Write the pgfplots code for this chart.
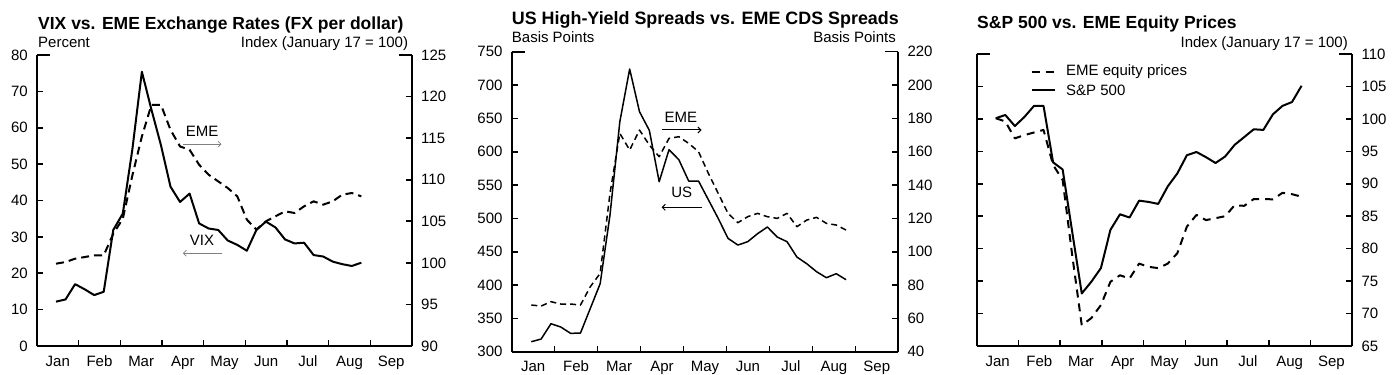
\documentclass[border=0pt]{standalone}
\usepackage{pgfplots}
\pgfplotsset{compat=1.18}
\usepackage{pgfplotstable}
\usetikzlibrary{arrows.meta}
\usepackage{fontspec}
\setmainfont{Liberation Sans}

% weekly data from Jan 17 (x in months from Jan 1)
\pgfplotstableread{
x vix eme
0.456 12.2 99.9
0.685 12.8 100.1
0.914 17.0 100.5
1.143 15.6 100.7
1.372 14.0 100.9
1.601 14.9 100.9
1.830 31.9 103.5
2.059 36.4 105.3
2.288 54.0 110.5
2.517 75.4 115.2
2.746 65.0 119.0
2.975 55.2 119.0
3.204 43.8 116.0
3.433 39.6 114.0
3.662 41.9 113.6
3.891 33.7 111.8
4.120 32.3 110.6
4.349 31.9 109.8
4.578 29.0 109.0
4.807 27.8 108.0
5.036 26.2 105.2
5.265 31.9 104.0
5.494 34.2 105.0
5.723 32.6 105.6
5.952 29.3 106.2
6.181 28.2 106.0
6.410 28.4 106.8
6.639 25.0 107.4
6.868 24.6 107.0
7.097 23.2 107.4
7.326 22.5 108.2
7.555 22.0 108.4
7.784 22.9 108.0
}\tabA

\pgfplotstableread{
x us cds
0.456 315 68
0.685 319 67.4
0.914 342 70
1.143 337 68.6
1.372 327.5 68.6
1.601 328 68
1.830 365 79
2.059 402 87
2.288 505 135
2.517 645 171
2.746 724 161
2.975 660 173
3.204 632 164
3.433 555 157
3.662 603 168
3.891 588 169
4.120 556 165
4.349 556 160
4.578 528 147
4.807 500 135
5.036 470 123
5.265 460 117.4
5.494 465 121
5.723 477 123
5.952 487 121
6.181 472 120
6.410 465 123
6.639 442 115
6.868 432 119
7.097 420 120.6
7.326 411 117
7.555 417 116
7.784 408 113
}\tabB

\pgfplotstableread{
x sp eq
0.456 100.1 100.1
0.685 100.6 99.6
0.914 98.9 97.0
1.143 100.3 97.5
1.372 102.0 97.9
1.601 102.0 98.3
1.830 93.3 92.9
2.059 92.2 90.6
2.288 82.6 79.0
2.517 73.1 68.2
2.746 74.9 69.3
2.975 77.0 71.3
3.204 82.9 74.9
3.433 85.3 75.9
3.662 84.8 75.4
3.891 87.4 77.7
4.120 87.2 77.2
4.349 86.9 77.0
4.578 89.6 77.7
4.807 91.6 79.3
5.036 94.4 83.4
5.265 94.9 85.2
5.494 94.1 84.4
5.723 93.2 84.7
5.952 94.2 85.0
6.181 96.0 86.7
6.410 97.2 86.6
6.639 98.4 87.65
6.868 98.3 87.65
7.097 100.7 87.6
7.326 102.0 88.6
7.555 102.6 88.4
7.784 105.1 88.0
}\tabC

\tikzset{
  solidA/.style={black, line width=2bp, line join=round},
  dashA/.style={black, line width=2bp, line join=round, dash pattern=on 8bp off 5bp},
  solidB/.style={black, line width=1.5bp, line join=round},
  dashB/.style={black, line width=1.5bp, line join=round, dash pattern=on 6bp off 4bp},
  dashC/.style={black, line width=2bp, line join=round, dash pattern=on 8bp off 6bp},
}

\pgfplotsset{
  base/.style={
    scale only axis,
    anchor=south west,
    xmin=0, xmax=9,
    clip=false,
    tick align=inside,
    major tick length=6bp,
    minor tick length=6bp,
    axis line style={-, line width=1.8bp},
    tick style={line width=1.6bp, black},
    ticklabel style={font=\fontsize{15bp}{18bp}\selectfont},
    /pgf/number format/assume math mode=true,
  },
  lefty/.style={
    base,
    axis x line*=bottom,
    axis y line*=left,
    xtick={0.5,1.5,...,8.5},
    xticklabels={Jan,Feb,Mar,Apr,May,Jun,Jul,Aug,Sep},
    minor xtick={1,2,...,8},
    major x tick style={draw=none},
    xticklabel style={anchor=base, inner sep=0pt, yshift=-20bp},
    yticklabel style={anchor=east, inner sep=0pt, xshift=-9bp},
  },
  righty/.style={
    base,
    axis x line=none,
    axis y line*=right,
    yticklabel style={anchor=west, inner sep=0pt, xshift=9bp},
  },
}

\newcommand{\tfont}{\fontsize{17.5bp}{20bp}\selectfont\bfseries}
\newcommand{\lfont}{\fontsize{15bp}{18bp}\selectfont}

\begin{document}
\begin{tikzpicture}[x=1bp, y=1bp]
\useasboundingbox (0,0) rectangle (1395,374);

%%%%%%%%%%%%%%%% Panel 1
\begin{axis}[lefty, at={(37bp,28bp)}, width=375bp, height=291bp,
  ymin=0, ymax=80, ytick={0,10,...,80}]
  \addplot[solidA] table[x=x, y=vix] {\tabA};
  \draw[line width=1.6bp] (rel axis cs:0,1) -- ++(13bp,0bp);
  \node[font=\lfont, inner sep=0pt] at (axis cs:3.96,59) {EME};
  \draw[gray, line width=0.7bp, -{Straight Barb[length=3bp]}] (axis cs:3.5,55.5) -- (axis cs:4.43,55.5);
  \node[font=\lfont, inner sep=0pt] at (axis cs:3.96,29.1) {VIX};
  \draw[gray, line width=0.7bp, -{Straight Barb[length=3bp]}] (axis cs:4.43,25.5) -- (axis cs:3.5,25.5);
\end{axis}
\begin{axis}[righty, at={(37bp,28bp)}, width=375bp, height=291bp,
  ymin=90, ymax=125, ytick={90,95,...,125}]
  \addplot[dashA] table[x=x, y=eme] {\tabA};
  \draw[line width=1.6bp] (rel axis cs:1,1) -- ++(-13bp,0bp);
\end{axis}
\node[anchor=base west, inner sep=0pt, font=\tfont] at (38,345) {VIX vs. EME Exchange Rates (FX per dollar)};
\node[anchor=base west, inner sep=0pt, font=\lfont] at (38,327) {Percent};
\node[anchor=base east, inner sep=0pt, font=\lfont] at (408.3,327) {Index (January 17 = 100)};

%%%%%%%%%%%%%%%% Panel 2
\begin{axis}[lefty, at={(511.7bp,22.3bp)}, width=386.6bp, height=300bp,
  ymin=300, ymax=750, ytick={300,350,...,750}]
  \addplot[solidB] table[x=x, y=us] {\tabB};
  \draw[line width=1.6bp] (rel axis cs:0,1) -- ++(13bp,0bp);
  \node[font=\lfont, inner sep=0pt] at (axis cs:3.94,651.6) {EME};
  \draw[black, line width=1bp, -{Straight Barb[length=3bp]}] (axis cs:3.49,632.6) -- (axis cs:4.42,632.6);
  \node[font=\lfont, inner sep=0pt] at (axis cs:3.96,538.5) {US};
  \draw[black, line width=1bp, -{Straight Barb[length=3bp]}] (axis cs:4.42,516.6) -- (axis cs:3.49,516.6);
\end{axis}
\begin{axis}[righty, at={(511.7bp,22.3bp)}, width=386.6bp, height=300bp,
  ymin=40, ymax=220, ytick={40,60,...,220}]
  \addplot[dashB] table[x=x, y=cds] {\tabB};
  \draw[line width=1.6bp] (rel axis cs:1,1) -- ++(-13bp,0bp);
\end{axis}
\node[anchor=base west, inner sep=0pt, font=\fontsize{17.9bp}{20bp}\selectfont\bfseries] at (511.7,349.4) {US High-Yield Spreads vs. EME CDS Spreads};
\node[anchor=base west, inner sep=0pt, font=\lfont] at (511.7,332) {Basis Points};
\node[anchor=base east, inner sep=0pt, font=\lfont] at (896,332) {Basis Points};

%%%%%%%%%%%%%%%% Panel 3
\begin{axis}[lefty, at={(976.7bp,28bp)}, width=375.6bp, height=292bp,
  ymin=65, ymax=110, ytick={65,70,...,110}, yticklabels={}]
  \draw[line width=1.6bp] (rel axis cs:0,1) -- ++(13bp,0bp);
\end{axis}
\begin{axis}[righty, at={(976.7bp,28bp)}, width=375.6bp, height=292bp,
  ymin=65, ymax=110, ytick={65,70,...,110}]
  \addplot[dashC] table[x=x, y=eq] {\tabC};
  \addplot[solidA] table[x=x, y=sp] {\tabC};
  \draw[line width=1.6bp] (rel axis cs:1,1) -- ++(-13bp,0bp);
\end{axis}
\draw[dashC] (1031.7,302.3) -- (1055,302.3);
\node[anchor=west, inner sep=0pt, font=\lfont] at (1066,302.3) {EME equity prices};
\draw[solidA] (1031.7,284) -- (1055,284);
\node[anchor=west, inner sep=0pt, font=\lfont] at (1066,284) {S\&P 500};
\node[anchor=base west, inner sep=0pt, font=\tfont] at (977,346) {S\&P 500 vs. EME Equity Prices};
\node[anchor=base east, inner sep=0pt, font=\lfont] at (1348,327) {Index (January 17 = 100)};
\end{tikzpicture}
\end{document}
